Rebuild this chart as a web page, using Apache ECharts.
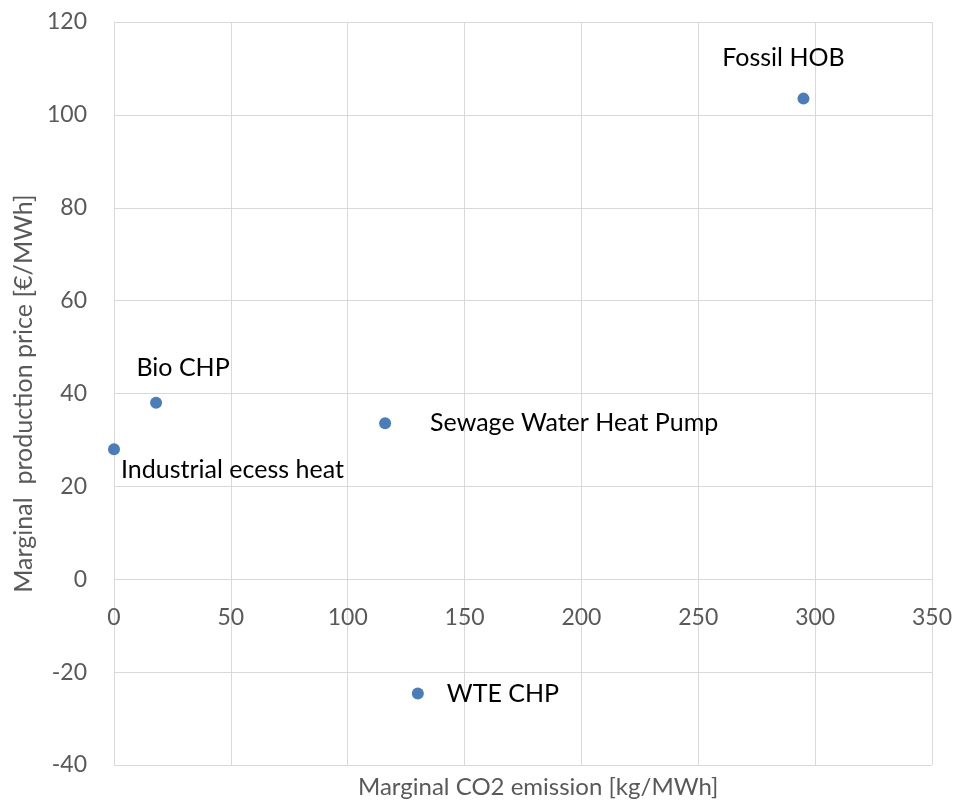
<!DOCTYPE html>
<html><head><meta charset="utf-8">
<script src="https://cdn.jsdelivr.net/npm/echarts@6/dist/echarts.min.js"></script>
<style>html,body{margin:0;padding:0;background:#fff}#c{width:956px;height:802px}</style>
</head><body><div id="c"></div>
<script>
const names = ['Fossil HOB','Bio CHP','Industrial ecess heat','Sewage Water Heat Pump','WTE CHP'];
const co2 = [295, 18, 0, 116, 130];
const price = [103.5, 38, 28, 33.6, -24.6];
const xTicks = [0, 350, 50];
const yTicks = [-40, 120, 20];

const FONT = 'Lato, "Open Sans", sans-serif';
// label placement styles (not data)
const labelStyles = [
  {position:'top', distance:22, offset:[-20,0]},
  {position:'top', distance:16, offset:[27,0]},
  {position:[13,14], align:'left', verticalAlign:'top'},
  {position:'right', distance:39},
  {position:'right', distance:23}
];
const chart = echarts.init(document.getElementById('c'));
const data = names.map((n,i)=>({
  name:n, value:[co2[i], price[i]],
  label:Object.assign({show:true, formatter:n}, labelStyles[i])
}));
chart.setOption({
  animation:false,
  grid:{left:114, right:24, top:22, bottom:37},
  xAxis:{type:'value', min:xTicks[0], max:xTicks[1], interval:xTicks[2],
    offset:-186,
    axisLine:{show:false},
    axisTick:{show:false},
    axisLabel:{color:'#595959', fontSize:23, fontFamily:FONT, margin:27},
    splitLine:{show:true, lineStyle:{color:'#d9d9d9', width:1}}
  },
  yAxis:{type:'value', min:yTicks[0], max:yTicks[1], interval:yTicks[2],
    name:'Marginal  production price [€/MWh]', nameLocation:'middle', nameGap:76,
    nameTextStyle:{color:'#595959', fontSize:25, fontFamily:FONT},
    axisLine:{show:true, lineStyle:{color:'#d9d9d9', width:1}},
    axisTick:{show:false},
    axisLabel:{color:'#595959', fontSize:23, fontFamily:FONT, margin:27},
    splitLine:{show:true, lineStyle:{color:'#d9d9d9', width:1}}
  },
  graphic:[{type:'text', left:358, top:775,
    style:{text:'Marginal CO2 emission [kg/MWh]', fill:'#595959', font:'24px '+FONT}}],
  series:[{type:'scatter', symbolSize:12, itemStyle:{color:'#4a7ebb', opacity:1},
    label:{color:'#000', fontSize:25, fontFamily:FONT},
    data:data}]
});
</script></body></html>
